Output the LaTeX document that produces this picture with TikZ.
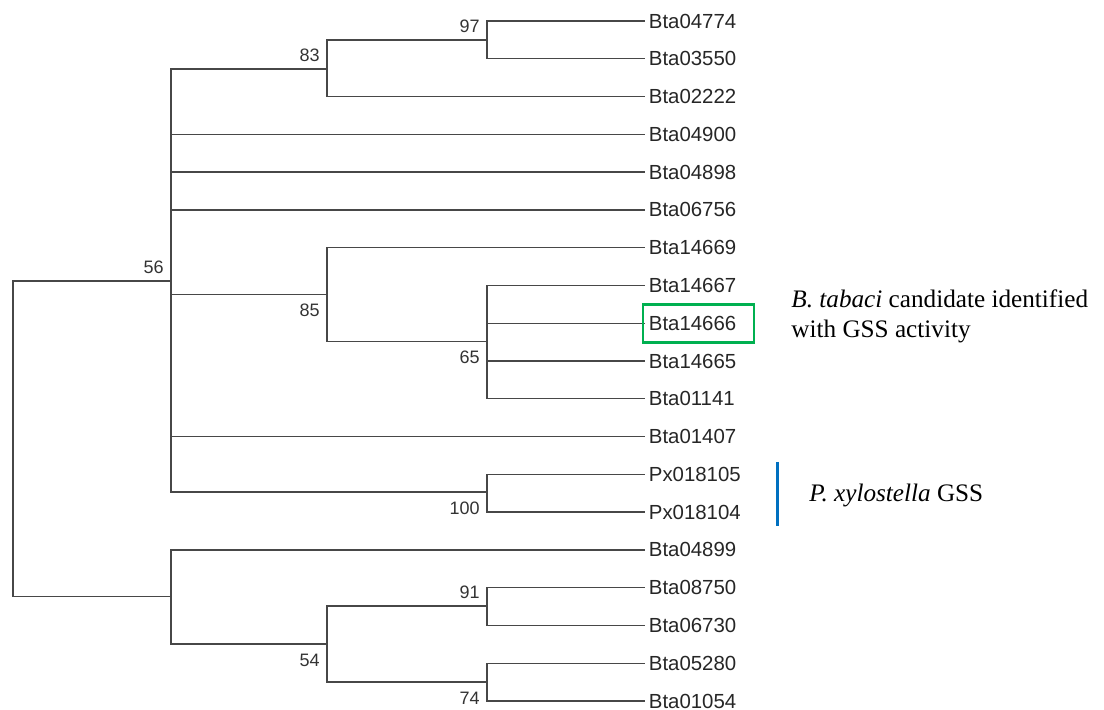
\documentclass[tikz,border=0pt]{standalone}
\usepackage{fontspec}
\setmainfont{Liberation Serif}
\setsansfont{Liberation Sans}
\usepackage{tikz}
\usetikzlibrary{positioning}
\definecolor{gssgreen}{RGB}{0,176,80}
\definecolor{gssblue}{RGB}{0,112,192}
\tikzset{
  branch/.style={draw=black!72,line width=0.65pt},
  leaf/.style={anchor=west,inner sep=1.75pt,text=black!85,font=\sffamily\fontsize{10.2}{12}\selectfont},
  boot/.style={inner sep=0pt,text=black!80,font=\sffamily\fontsize{9}{10}\selectfont},
  bsup/.style={boot,above left=3.5pt and 3.5pt of #1},
  bsdown/.style={boot,below left=4.75pt and 3.5pt of #1},
  note/.style={anchor=base west,inner sep=0pt,font=\fontsize{12.6}{14}\selectfont}
}
\begin{document}
\begin{tikzpicture}[x=0.5pt,y=-0.5pt]
\useasboundingbox (0,0) rectangle (1104,710);
\foreach \name [count=\i] in {Bta04774,Bta03550,Bta02222,Bta04900,Bta04898,Bta06756,Bta14669,Bta14667,Bta14666,Bta14665,Bta01141,Bta01407,Px018105,Px018104,Bta04899,Bta08750,Bta06730,Bta05280,Bta01054}
  \node[leaf] (L\i) at (645,{21+37.78*(\i-1)}) {\name};
\coordinate (n97) at (487,40);
\coordinate (n83) at (327,69);
\coordinate (n65) at (487,341.5);
\coordinate (n85) at (327,294.5);
\coordinate (n100) at (487,492);
\coordinate (n56) at (171,281);
\coordinate (n91) at (487,606);
\coordinate (n74) at (487,682);
\coordinate (n54) at (327,644);
\coordinate (nlow) at (171,596.5);
\coordinate (root) at (13,440);
\draw[branch] (n97) |- (L1.west) (n97) |- (L2.west);
\draw[branch] (n83) |- (n97) (n83) |- (L3.west);
\draw[branch] (n65) |- (L8.west) (n65) |- (L9.west) (n65) |- (L10.west) (n65) |- (L11.west);
\draw[branch] (n85) |- (L7.west) (n85) |- (n65);
\draw[branch] (n100) |- (L13.west) (n100) |- (L14.west);
\draw[branch] (n56) |- (n83) (n56) |- (L4.west) (n56) |- (L5.west) (n56) |- (L6.west)
  (n56) |- (n85) (n56) |- (L12.west) (n56) |- (n100);
\draw[branch] (n91) |- (L16.west) (n91) |- (L17.west);
\draw[branch] (n74) |- (L18.west) (n74) |- (L19.west);
\draw[branch] (n54) |- (n91) (n54) |- (n74);
\draw[branch] (nlow) |- (L15.west) (nlow) |- (n54);
\draw[branch] (root) |- (n56) (root) |- (nlow);
\node[bsup=n97] (b97) {97};
\node[bsup=n83] (b83) {83};
\node[bsup=n56] (b56) {56};
\node[bsdown=n85] (b85) {85};
\node[bsdown=n65] (b65) {65};
\node[bsdown=n100] (b100) {100};
\node[bsup=n91] (b91) {91};
\node[bsdown=n54] (b54) {54};
\node[bsdown=n74] (b74) {74};
\draw[gssgreen,line width=1.3pt] ([shift={(-1pt,9.5pt)}]L9.west) rectangle ([shift={(54.5pt,-9.5pt)}]L9.west);
\node[note] (tab1) at (791,308) {\textit{B. tabaci} candidate identified};
\node[note] (tab2) at (791,338) {with GSS activity};
\coordinate (pxtop) at (777,462);
\coordinate (pxbot) at (777,526);
\draw[gssblue,line width=1.5pt] (pxtop) -- (pxbot);
\node[note] (px) at (809,502) {\textit{P. xylostella} GSS};
\end{tikzpicture}
\end{document}
